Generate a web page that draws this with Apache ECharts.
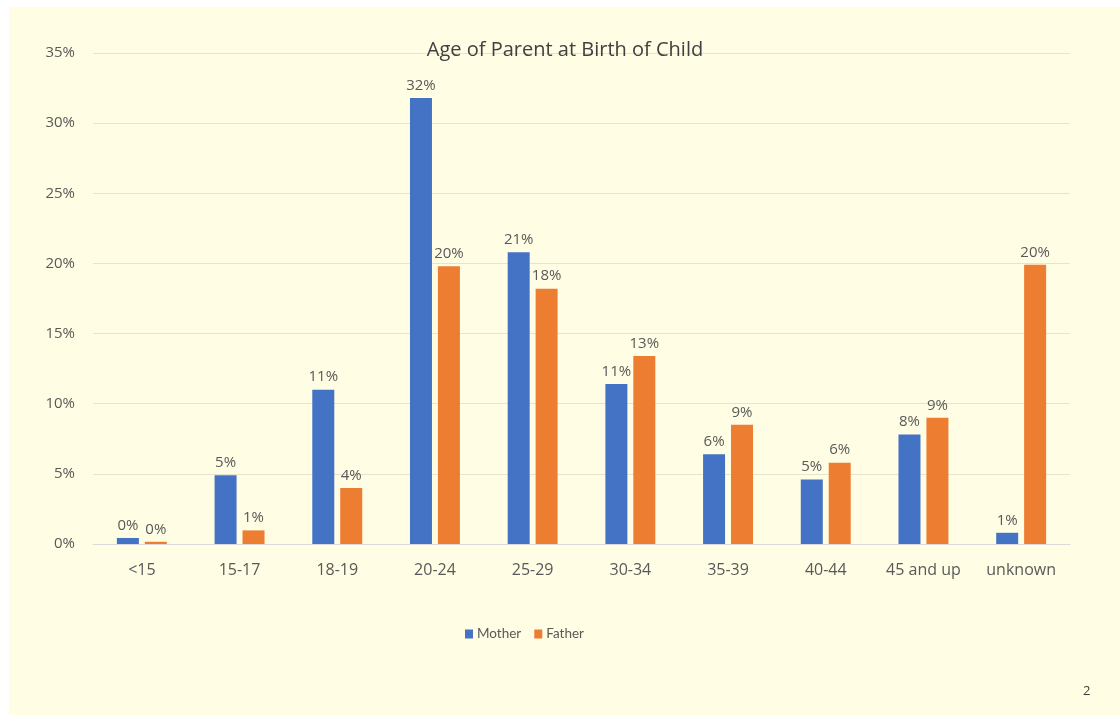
<!DOCTYPE html>
<html>
<head>
<meta charset="utf-8">
<script src="https://cdn.jsdelivr.net/npm/echarts@6/dist/echarts.min.js"></script>
<style>
html,body{margin:0;padding:0;background:#ffffff;width:1120px;height:715px;overflow:hidden;}
#chart{position:absolute;left:9px;top:7px;width:1111px;height:708px;background:#FFFDE4;}
</style>
</head>
<body>
<div id="chart"></div>
<script>
const categories = ['<15','15-17','18-19','20-24','25-29','30-34','35-39','40-44','45 and up','unknown'];
const mother = [0.43, 4.9, 11.0, 31.8, 20.8, 11.4, 6.4, 4.6, 7.8, 0.8];
const father = [0.16, 0.97, 4.0, 19.8, 18.2, 13.4, 8.5, 5.8, 9.0, 19.9];
const yTicks = [0, 5, 10, 15, 20, 25, 30, 35];
const titleText = 'Age of Parent at Birth of Child';
const pageNumber = '2';

const FONT = '"Open Sans", sans-serif';
const TXT = '#595959';
const chart = echarts.init(document.getElementById('chart'));
const labelCfg = {
  show: true, position: 'top', distance: 5,
  color: TXT, fontSize: 15, fontFamily: FONT,
  formatter: p => Math.round(p.value) + '%'
};
chart.setOption({
  backgroundColor: '#FFFDE4',
  animation: false,
  title: {
    text: titleText, left: 551, top: 28, textAlign: 'center',
    textStyle: {color: '#404040', fontSize: 20, fontWeight: 'normal', fontFamily: FONT}
  },
  legend: {
    data: ['Mother','Father'], left: 451, top: 615,
    itemWidth: 8, itemHeight: 9, itemGap: 13, icon: 'rect',
    textStyle: {color: TXT, fontSize: 13.5, fontFamily: 'Lato, sans-serif', padding: [0,0,0,-1]}
  },
  grid: {left: 84, right: 50, top: 46, bottom: 171, containLabel: false},
  xAxis: {
    type: 'category', data: categories,
    axisLine: {show: true, lineStyle: {color: '#D9D9D9'}},
    axisTick: {show: false},
    axisLabel: {color: TXT, fontSize: 16, fontFamily: FONT, margin: 18}
  },
  yAxis: {
    type: 'value', min: yTicks[0], max: yTicks[yTicks.length-1], interval: 5,
    axisLine: {show: false}, axisTick: {show: false},
    splitLine: {lineStyle: {color: '#E6E3D0'}},
    axisLabel: {color: TXT, fontSize: 15, fontFamily: FONT, margin: 18, formatter: v => v + '%'}
  },
  series: [
    {name: 'Mother', type: 'bar', data: mother, barWidth: 22, barGap: '27%',
     itemStyle: {color: '#4472C4'}, label: labelCfg},
    {name: 'Father', type: 'bar', data: father, barWidth: 22,
     itemStyle: {color: '#ED7D31'}, label: labelCfg}
  ],
  graphic: [{
    type: 'text', left: 1074, top: 678,
    style: {text: pageNumber, fill: '#404040', fontSize: 13, fontFamily: FONT}
  }]
});
</script>
</body>
</html>
